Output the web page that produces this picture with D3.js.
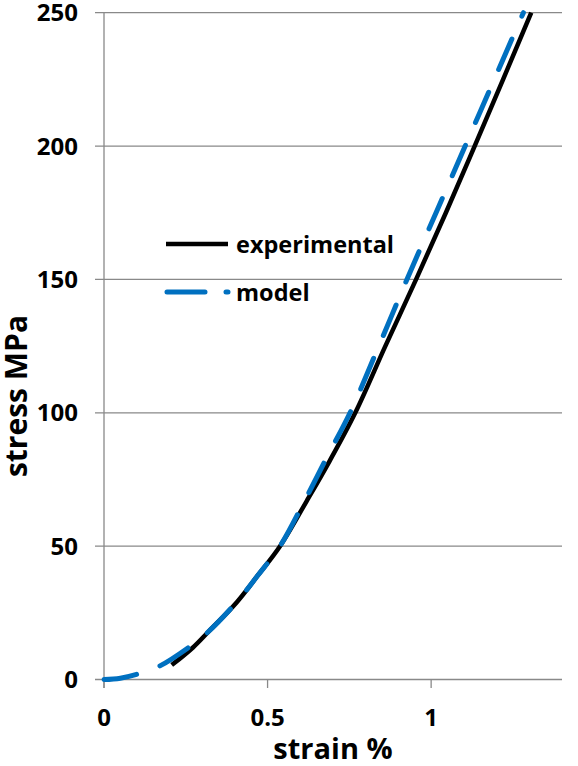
<!DOCTYPE html>
<html><head><meta charset="utf-8">
<script src="https://cdn.jsdelivr.net/npm/d3@7"></script>
<style>body{margin:0;background:#fff}svg{display:block}text{font-family:"Open Sans",sans-serif;font-weight:700;fill:#000}</style>
</head><body><svg id="c" width="578" height="766"></svg>
<script>
const expStrain = [0.207, 0.272, 0.32, 0.406, 0.47, 0.538, 0.62, 0.69, 0.768, 0.86, 0.954, 1.045, 1.133, 1.22, 1.306];
const expStress = [5.4, 12, 18, 29, 39, 50, 67, 82, 100, 125, 150, 175, 200, 225, 250];
const modStrain = [0, 0.05, 0.115, 0.171, 0.272, 0.318, 0.406, 0.47, 0.538, 0.609, 0.68, 0.752, 0.84, 0.926, 1.015, 1.104, 1.193, 1.282];
const modStress = [0, 0.5, 2.5, 5.1, 13.2, 17.8, 29.1, 39, 50, 66, 83, 100, 125, 150, 175, 200, 225, 250];
const xTicks = [0, 0.5, 1];
const xTickLabels = ["0", "0.5", "1"];
const yTicks = [0, 50, 100, 150, 200, 250];
const seriesNames = ["experimental", "model"];
const xTitle = "strain %";
const yTitle = "stress MPa";

const svg = d3.select("#c");
const x = d3.scaleLinear().domain([0, 1.4]).range([104, 562]);
const y = d3.scaleLinear().domain([0, 250]).range([679.5, 12.7]);
const grid = "#898989";

svg.append("g").selectAll("line").data(yTicks).join("line")
  .attr("x1", 95).attr("x2", x(1.4)).attr("y1", d => y(d)).attr("y2", d => y(d))
  .attr("stroke", grid).attr("stroke-width", 1.3);
svg.append("line").attr("x1", x(0)).attr("x2", x(0)).attr("y1", y(250)).attr("y2", y(0) + 8.5)
  .attr("stroke", grid).attr("stroke-width", 1.3);
svg.append("g").selectAll("line").data(xTicks).join("line")
  .attr("x1", d => x(d)).attr("x2", d => x(d)).attr("y1", y(0)).attr("y2", y(0) + 8.5)
  .attr("stroke", grid).attr("stroke-width", 1.3);

svg.append("g").selectAll("text").data(yTicks).join("text")
  .attr("x", 78).attr("y", d => y(d) + 8.5).attr("text-anchor", "end")
  .attr("font-size", 24).text(d => d);
svg.append("g").selectAll("text").data(xTicks).join("text")
  .attr("x", d => x(d)).attr("y", 726).attr("text-anchor", "middle")
  .attr("font-size", 24).text((d, i) => xTickLabels[i]);

svg.append("text").attr("x", 333).attr("y", 759).attr("text-anchor", "middle")
  .attr("font-size", 29).text(xTitle);
svg.append("text").attr("transform", "translate(27,396) rotate(-90)").attr("text-anchor", "middle")
  .attr("font-size", 30).text(yTitle);

const line = d3.line().x(d => x(d[0])).y(d => y(d[1])).curve(d3.curveCatmullRom.alpha(0.5));
const expData = expStrain.map((s, i) => [s, expStress[i]]);
const modData = modStrain.map((s, i) => [s, modStress[i]]);

svg.append("path").attr("d", line(expData)).attr("fill", "none")
  .attr("stroke", "#000").attr("stroke-width", 4.5).attr("stroke-linejoin", "round");
svg.append("path").attr("d", line(modData)).attr("fill", "none")
  .attr("stroke", "#0070C0").attr("stroke-width", 5).attr("stroke-linecap", "round")
  .attr("stroke-dasharray", "33 25");

const lg = svg.append("g");
lg.append("line").attr("x1", 166).attr("x2", 228).attr("y1", 244).attr("y2", 244)
  .attr("stroke", "#000").attr("stroke-width", 4.5);
lg.append("text").attr("x", 236).attr("y", 253).attr("font-size", 23.5).text(seriesNames[0]);
lg.append("line").attr("x1", 167).attr("x2", 228).attr("y1", 292).attr("y2", 292)
  .attr("stroke", "#0070C0").attr("stroke-width", 5).attr("stroke-linecap", "round")
  .attr("stroke-dasharray", "38 21");
lg.append("text").attr("x", 236).attr("y", 301).attr("font-size", 23.5).text(seriesNames[1]);
</script></body></html>
